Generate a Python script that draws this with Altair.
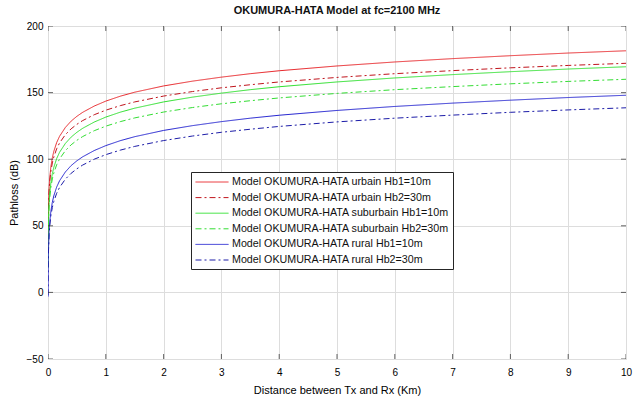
import altair as alt
import pandas as pd

distance_km = [0.001, 0.002, 0.005, 0.01, 0.02, 0.03, 0.05, 0.075, 0.1, 0.15, 0.2, 0.3, 0.4, 0.5,
               0.6, 0.8, 1, 1.25, 1.5, 2, 2.5, 3, 3.5, 4, 5, 6, 7, 8, 9, 10]

urban_hb10 = [30.2, 41.6, 56.6, 68.0, 79.4, 86.0, 94.4, 101.1, 105.8, 112.5, 117.2, 123.8, 128.6, 132.2,
              135.2, 139.9, 143.6, 147.3, 150.3, 155.0, 158.6, 161.6, 164.2, 166.4, 170.0, 173.0, 175.5,
              177.7, 179.7, 181.4]
urban_hb30 = [31.2, 41.8, 55.8, 66.4, 77.0, 83.2, 91.0, 97.2, 101.6, 107.8, 112.2, 118.4, 122.8, 126.2,
              129.0, 133.4, 136.8, 140.2, 143.0, 147.4, 150.8, 153.6, 155.9, 158.0, 161.4, 164.2, 166.5,
              168.6, 170.4, 172.0]
suburban_hb10 = [18.2, 29.6, 44.6, 56.0, 67.4, 74.0, 82.4, 89.1, 93.8, 100.5, 105.2, 111.8, 116.6, 120.2,
                 123.2, 127.9, 131.6, 135.3, 138.3, 143.0, 146.6, 149.6, 152.2, 154.4, 158.0, 161.0, 163.5,
                 165.7, 167.7, 169.4]
suburban_hb30 = [19.2, 29.8, 43.8, 54.4, 65.0, 71.2, 79.0, 85.2, 89.6, 95.8, 100.2, 106.4, 110.8, 114.2,
                 117.0, 121.4, 124.8, 128.2, 131.0, 135.4, 138.8, 141.6, 143.9, 146.0, 149.4, 152.2, 154.5,
                 156.6, 158.4, 160.0]
rural_hb10 = [-3.2, 8.2, 23.2, 34.6, 46.0, 52.6, 61.0, 67.7, 72.4, 79.1, 83.8, 90.4, 95.2, 98.8,
              101.8, 106.5, 110.2, 113.9, 116.9, 121.6, 125.2, 128.2, 130.8, 133.0, 136.6, 139.6, 142.1,
              144.3, 146.3, 148.0]
rural_hb30 = [-2.2, 8.4, 22.4, 33.0, 43.6, 49.8, 57.6, 63.8, 68.2, 74.4, 78.8, 85.0, 89.4, 92.8,
              95.6, 100.0, 103.4, 106.8, 109.6, 114.0, 117.4, 120.2, 122.5, 124.6, 128.0, 130.8, 133.1,
              135.2, 137.0, 138.6]

series_names = [
    "Model OKUMURA-HATA urbain Hb1=10m",
    "Model OKUMURA-HATA urbain Hb2=30m",
    "Model OKUMURA-HATA suburbain Hb1=10m",
    "Model OKUMURA-HATA suburbain Hb2=30m",
    "Model OKUMURA-HATA rural Hb1=10m",
    "Model OKUMURA-HATA rural Hb2=30m",
]
series_values = [urban_hb10, urban_hb30, suburban_hb10, suburban_hb30, rural_hb10, rural_hb30]
series_colors = ["#e8262a", "#c0141c", "#2ee02e", "#33dd33", "#2323d0", "#1c1ca8"]
series_dashes = [[1, 0], [6, 3, 2, 3], [1, 0], [6, 3, 2, 3], [1, 0], [6, 3, 2, 3]]

x_ticks = list(range(0, 11))
y_ticks = [-50, 0, 50, 100, 150, 200]

rows = []
for name, vals in zip(series_names, series_values):
    for d, v in zip(distance_km, vals):
        rows.append({"d": d, "pl": v, "series": name})
df = pd.DataFrame(rows)

FONT = "Liberation Sans"
W, H = 578, 333
X_SCALE = alt.Scale(domain=[0, 10], nice=False)
Y_SCALE = alt.Scale(domain=[-50, 200], nice=False)

lines = alt.Chart(df).mark_line(strokeWidth=1, clip=True).encode(
    x=alt.X("d:Q", title="Distance between Tx and Rx (Km)", scale=X_SCALE,
            axis=alt.Axis(values=x_ticks, format="d", ticks=False, labelPadding=8,
                          labelFlush=False, titlePadding=7, domain=False,
                          titleFontWeight="normal")),
    y=alt.Y("pl:Q", title="Pathloss (dB)", scale=Y_SCALE,
            axis=alt.Axis(values=y_ticks, format="d", ticks=False, labelPadding=5,
                          labelFlush=False, titlePadding=7, domain=False,
                          titleFontWeight="normal")),
    color=alt.Color("series:N", sort=series_names,
                    scale=alt.Scale(domain=series_names, range=series_colors),
                    legend=alt.Legend(title=None, orient="none", legendX=143, legendY=146,
                                      symbolType="M-1,0H5", symbolSize=121, symbolStrokeWidth=1,
                                      symbolOffset=0,
                                      labelFontSize=10.7, labelFont=FONT, labelColor="#111111",
                                      fillColor="white", strokeColor="#262626", padding=4,
                                      rowPadding=4.6, labelOffset=25, labelLimit=400)),
    strokeDash=alt.StrokeDash("series:N", sort=series_names,
                              scale=alt.Scale(domain=series_names, range=series_dashes),
                              legend=None),
    order="d:Q",
)

xt = pd.DataFrame({"t": x_ticks})
yt = pd.DataFrame({"t": y_ticks})
tick_style = dict(color="#262626", thickness=1, size=10, clip=True)

bottom_ticks = alt.Chart(xt).mark_tick(orient="vertical", **tick_style).encode(
    x=alt.X("t:Q", scale=X_SCALE), y=alt.value(H))
top_ticks = alt.Chart(xt).mark_tick(orient="vertical", **tick_style).encode(
    x=alt.X("t:Q", scale=X_SCALE), y=alt.value(0))
left_ticks = alt.Chart(yt).mark_tick(orient="horizontal", **tick_style).encode(
    y=alt.Y("t:Q", scale=Y_SCALE), x=alt.value(0))
right_ticks = alt.Chart(yt).mark_tick(orient="horizontal", **tick_style).encode(
    y=alt.Y("t:Q", scale=Y_SCALE), x=alt.value(W))

chart = alt.layer(lines, bottom_ticks, top_ticks, left_ticks, right_ticks).properties(
    width=W, height=H,
    title=alt.TitleParams("OKUMURA-HATA Model at fc=2100 MHz", fontSize=11, font=FONT,
                          fontWeight="bold", color="#111111", offset=5, anchor="middle"),
    padding={"left": 48, "top": 26, "right": 9, "bottom": 37},
    autosize=alt.AutoSizeParams(type="none"),
).configure_view(
    stroke="#262626", strokeWidth=1
).configure_axis(
    gridColor="#e2e2e2", gridWidth=1, labelFont=FONT, labelFontSize=11, labelColor="#262626",
    titleFont=FONT, titleFontSize=11, titleColor="#262626", titleFontWeight="normal"
).configure(background="white")

chart.save("out.html", embed_options={"renderer": "svg", "actions": False})
